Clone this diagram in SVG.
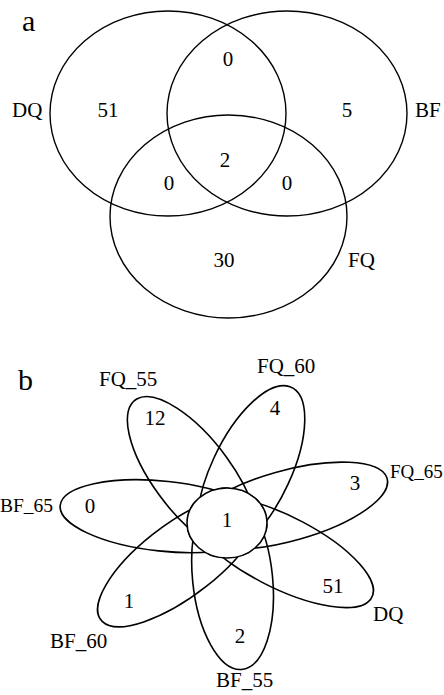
<svg xmlns="http://www.w3.org/2000/svg" width="444" height="695" viewBox="0 0 444 695">
<style>
text{font-family:"Liberation Serif","Times New Roman",serif;font-size:21px;fill:#000}
.c{text-anchor:middle}
.big{font-size:30px}
.sa{fill:none;stroke:#000;stroke-width:1.4}
.sb{fill:none;stroke:#000;stroke-width:1.6;vector-effect:non-scaling-stroke}
.core{fill:#fff;stroke:#000;stroke-width:1.6;vector-effect:non-scaling-stroke}
</style>
<rect width="444" height="695" fill="#fff"/>
<g id="panel-a">
<text x="22" y="31" class="big">a</text>
<g id="DQ"><ellipse class="sa" cx="168" cy="113.5" rx="118" ry="102.5"/><text x="12" y="117">DQ</text></g>
<g id="BF"><ellipse class="sa" cx="287" cy="113.5" rx="120" ry="102.5"/><text x="415" y="117">BF</text></g>
<g id="FQ"><ellipse class="sa" cx="228.5" cy="216.5" rx="118.5" ry="101.5"/><text x="348" y="267">FQ</text></g>
<g id="counts-a">
<text class="c" x="108" y="117">51</text>
<text class="c" x="347" y="117">5</text>
<text class="c" x="228" y="66">0</text>
<text class="c" x="225" y="167">2</text>
<text class="c" x="169" y="190">0</text>
<text class="c" x="287" y="190">0</text>
<text class="c" x="224" y="267">30</text>
</g>
</g>
<g id="panel-b">
<text x="18" y="390" class="big">b</text>
<g transform="translate(227,523) scale(1,0.875)">
<g id="FQ_65p"><ellipse class="sb" cx="64" cy="0" rx="104" ry="40" transform="rotate(-18)"/></g>
<g id="DQp"><ellipse class="sb" cx="64" cy="0" rx="104" ry="40" transform="rotate(31)"/></g>
<g id="BF_55p"><ellipse class="sb" cx="64" cy="0" rx="104" ry="40" transform="rotate(85)"/></g>
<g id="BF_60p"><ellipse class="sb" cx="64" cy="0" rx="104" ry="40" transform="rotate(138)"/></g>
<g id="BF_65p"><ellipse class="sb" cx="64" cy="0" rx="104" ry="40" transform="rotate(187)"/></g>
<g id="FQ_55p"><ellipse class="sb" cx="64" cy="0" rx="104" ry="40" transform="rotate(237.5)"/></g>
<g id="FQ_60p"><ellipse class="sb" cx="64" cy="0" rx="104" ry="40" transform="rotate(292)"/></g>
<g id="core"><circle class="core" cx="0" cy="0" r="40"/></g>
</g>
<g id="labels-b">
<text x="99" y="386">FQ_55</text>
<text x="257" y="373">FQ_60</text>
<text x="390" y="478" style="font-size:19px">FQ_65</text>
<text x="0" y="512" style="font-size:19.5px">BF_65</text>
<text x="50" y="648">BF_60</text>
<text x="216" y="687">BF_55</text>
<text x="373" y="621">DQ</text>
</g>
<g id="counts-b">
<text class="c" x="155" y="425">12</text>
<text class="c" x="275" y="415">4</text>
<text class="c" x="355" y="490">3</text>
<text class="c" x="90" y="513">0</text>
<text class="c" x="227" y="527">1</text>
<text class="c" x="333" y="593">51</text>
<text class="c" x="129" y="608">1</text>
<text class="c" x="240" y="643">2</text>
</g>
</g>
</svg>
